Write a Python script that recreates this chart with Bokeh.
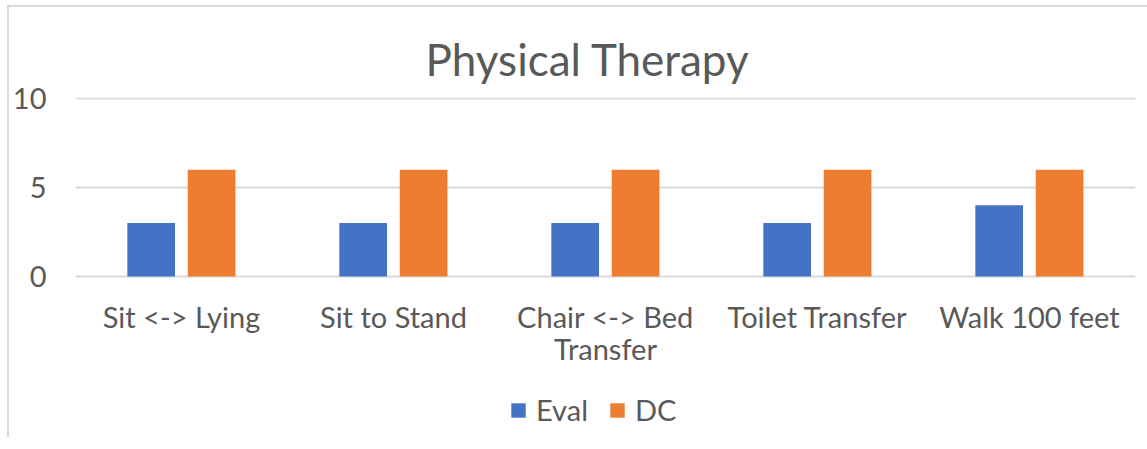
from bokeh.plotting import figure
from bokeh.models import (FactorRange, Range1d, Legend, LegendItem,
                          ColumnDataSource, FixedTicker)
from bokeh.core.properties import value
from bokeh.transform import dodge
from bokeh.embed import file_html
from bokeh.resources import INLINE

categories = ["Sit <-> Lying", "Sit to Stand", "Chair <-> Bed\nTransfer",
              "Toilet Transfer", "Walk 100 feet"]
eval_values = [3, 3, 3, 3, 4]
dc_values = [6, 6, 6, 6, 6]
y_ticks = [0, 5, 10]
series_names = ["Eval", "DC"]

FONT = "Lato"
TXT = "#595959"

src = ColumnDataSource(dict(cat=categories, ev=eval_values, dc=dc_values))

# frame extends below the axis so category labels and legend live inside it
p = figure(x_range=FactorRange(*categories), y_range=Range1d(-9.05, 10.06),
           frame_width=1060, frame_height=340, output_backend="svg",
           toolbar_location=None, x_axis_location=None,
           min_border_left=65, min_border_right=12,
           min_border_top=90, min_border_bottom=0)
p.styles = {"border-left": "2px solid #d9d9d9", "border-top": "2px solid #d9d9d9",
            "margin-left": "7px", "margin-top": "5px"}
p.outline_line_color = None

r1 = p.vbar(x=dodge("cat", -0.143, range=p.x_range), top="ev", width=0.225,
            source=src, fill_color="#4472C4", line_color=None)
r2 = p.vbar(x=dodge("cat", 0.142, range=p.x_range), top="dc", width=0.225,
            source=src, fill_color="#ED7D31", line_color=None)

# category labels (x axis labels) placed through the factor scale
p.text(x="cat", y=-1.29, text="cat", source=src,
       text_font=value(FONT), text_font_size="29px", text_color=TXT,
       text_align="center", text_baseline="top", text_line_height=0.89)

p.title.text = "Physical Therapy"
p.title.align = "left"
p.title.offset = 350
p.title.text_font = FONT
p.title.text_font_size = "44px"
p.title.text_font_style = "normal"
p.title.text_color = TXT
p.title.standoff = 26

p.xgrid.visible = False
p.ygrid.ticker = FixedTicker(ticks=y_ticks)
p.ygrid.grid_line_color = "#d9d9d9"
p.ygrid.grid_line_width = 2

p.yaxis.ticker = FixedTicker(ticks=y_ticks)
ax = p.yaxis[0]
ax.axis_line_color = None
ax.major_tick_line_color = None
ax.minor_tick_line_color = None
ax.major_label_text_font = FONT
ax.major_label_text_font_size = "29px"
ax.major_label_text_color = TXT
ax.major_label_standoff = 23

legend = Legend(items=[LegendItem(label=series_names[0], renderers=[r1]),
                       LegendItem(label=series_names[1], renderers=[r2])],
                orientation="horizontal", location=(434, 10),
                glyph_width=18, glyph_height=18, label_standoff=9,
                spacing=20, padding=0, margin=0,
                label_text_font=FONT, label_text_font_size="29px",
                label_text_color=TXT, border_line_color=None,
                background_fill_alpha=0)
p.add_layout(legend)

open("out.html", "w").write(file_html(p, INLINE))
